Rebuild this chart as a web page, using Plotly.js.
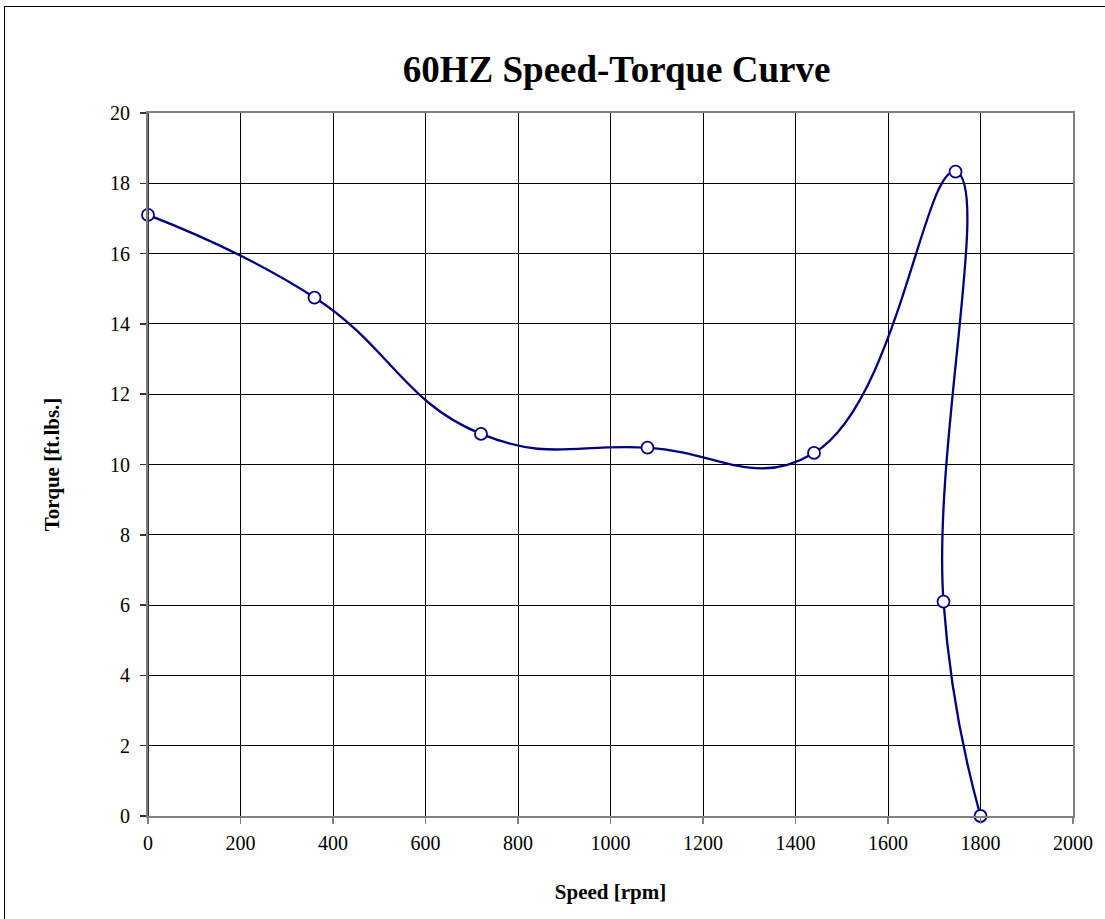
<!DOCTYPE html>
<html>
<head>
<meta charset="utf-8">
<script src="https://cdn.plot.ly/plotly-3.0.1.min.js"></script>
<style>
html,body{margin:0;padding:0;background:#fff;}
#wrap{position:relative;width:1105px;height:919px;overflow:hidden;}
#chart{position:absolute;left:0;top:0;width:1105px;height:919px;}
#frame{position:absolute;left:4px;top:6px;width:1110px;height:930px;border-left:1.5px solid #000;border-top:1.5px solid #000;pointer-events:none;}
</style>
</head>
<body>
<div id="wrap"><div id="chart"></div><div id="frame"></div></div>
<script>
const speed = [0, 360, 720, 1080, 1440, 1746, 1720, 1800];
const torque = [17.1, 14.75, 10.87, 10.48, 10.33, 18.33, 6.1, 0];
const xTicks = [0, 200, 400, 600, 800, 1000, 1200, 1400, 1600, 1800, 2000];
const yTicks = [0, 2, 4, 6, 8, 10, 12, 14, 16, 18, 20];

const serif = 'Liberation Serif';

const trace = {
  x: speed, y: torque, type: 'scatter', mode: 'lines+markers',
  line: {color: '#000080', width: 2.3, shape: 'spline', smoothing: 1.3},
  marker: {symbol: 'circle', size: 12, color: '#ffffff', line: {color: '#000080', width: 1.8}},
  cliponaxis: false, hoverinfo: 'x+y'
};

const tickFont = {family: serif, size: 20, color: '#000000'};

const layout = {
  width: 1105, height: 919,
  margin: {l: 148, r: 32, t: 113, b: 103},
  paper_bgcolor: '#ffffff', plot_bgcolor: '#ffffff',
  showlegend: false,
  font: {family: serif, color: '#000000', size: 20},
  title: {text: '<b>60HZ Speed-Torque Curve</b>', font: {family: serif, size: 37, color: '#000'},
          x: 0.558, xanchor: 'center', y: 0.925, yanchor: 'middle'},
  xaxis: {
    range: [0, 2000], tickmode: 'array', tickvals: xTicks, ticktext: xTicks.map(String),
    showgrid: true, gridcolor: '#000', gridwidth: 1,
    zeroline: false, showline: true, linecolor: '#808080', linewidth: 2, mirror: true,
    ticks: 'outside', ticklen: 6, tickcolor: '#808080', tickwidth: 1.5,
    tickfont: tickFont, tickangle: 0, ticklabelstandoff: 2,
    title: {text: '<b>Speed [rpm]</b>', font: {family: serif, size: 21, color: '#000'}, standoff: 31}
  },
  yaxis: {
    range: [0, 20], tickmode: 'array', tickvals: yTicks, ticktext: yTicks.map(String),
    showgrid: true, gridcolor: '#000', gridwidth: 1,
    zeroline: false, showline: true, linecolor: '#808080', linewidth: 2, mirror: true,
    ticks: 'outside', ticklen: 6, tickcolor: '#333', tickwidth: 1.5,
    tickfont: tickFont, ticklabelstandoff: 6,
    title: {text: '<b>Torque [ft.lbs.]</b>', font: {family: serif, size: 21, color: '#000'}, standoff: 45}
  },
  shapes: [
    {type: 'line', xref: 'x', yref: 'paper', x0: 0, x1: 0, y0: 0, y1: 1, line: {color: '#333', width: 2}, layer: 'above'}
  ]
};

Plotly.newPlot('chart', [trace], layout, {displayModeBar: false, staticPlot: true});
</script>
</body>
</html>
